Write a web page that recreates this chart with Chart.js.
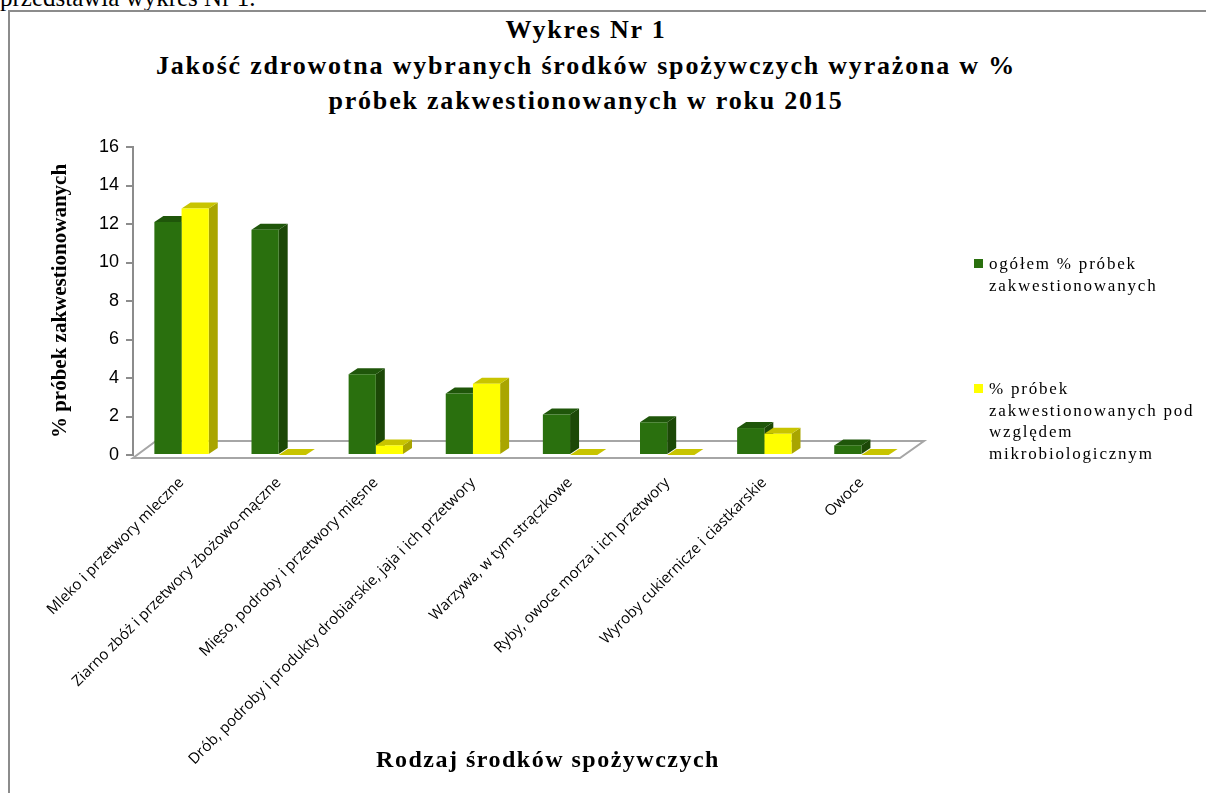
<!DOCTYPE html>
<html>
<head>
<meta charset="utf-8">
<script src="https://cdn.jsdelivr.net/npm/chart.js@4.4.0/dist/chart.umd.min.js"></script>
<style>
  body { margin: 0; width: 1206px; height: 793px; overflow: hidden; background: #fff; position: relative; font-family: "Liberation Serif", serif; }
  #intro { position: absolute; left: 0; top: -14px; font-size: 25px; line-height: 24px; white-space: nowrap; }
  #frame { position: absolute; left: 8px; top: 10px; width: 1220px; height: 800px; border: 2px solid #8c8c8c; box-sizing: border-box; }
  #wrap { position: absolute; left: 0; top: 0; width: 1172px; height: 793px; }
  #title { position: absolute; left: 0; width: 1172px; top: 12px; text-align: center; font-weight: bold; font-size: 26px; line-height: 35.5px; letter-spacing: 1.8px; }
  #legend { position: absolute; left: 974px; top: 0; font-size: 17px; letter-spacing: 1.8px; }
  .item { position: absolute; left: 0; width: 230px; }
  .box { position: absolute; left: 0; width: 9px; height: 9px; }
  .txt { position: absolute; left: 15px; line-height: 21.7px; white-space: pre; }
  #xtitle { position: absolute; left: 548px; top: 747px; transform: translateX(-50%); font-weight: bold; font-size: 24px; letter-spacing: 1.5px; white-space: nowrap; line-height: 24px; }
</style>
</head>
<body>
<div id="intro">przedstawia wykres Nr 1.</div>
<div id="frame"></div>
<div id="title"></div>
<div id="wrap"><canvas id="wykres"></canvas></div>
<div id="legend"></div>
<div id="xtitle"></div>
<script>
// dane
const categories = [
  "Mleko i przetwory mleczne",
  "Ziarno zbóż i przetwory zbożowo-mączne",
  "Mięso, podroby i przetwory mięsne",
  "Drób, podroby i produkty drobiarskie, jaja i ich przetwory",
  "Warzywa, w tym strączkowe",
  "Ryby, owoce morza i ich przetwory",
  "Wyroby cukiernicze i ciastkarskie",
  "Owoce"
];
const ogolem = [12.1, 11.7, 4.2, 3.2, 2.1, 1.7, 1.4, 0.5];
const mikro = [12.8, 0, 0.5, 3.7, 0, 0, 1.1, 0];
const seriesNames = [
  "ogółem % próbek\nzakwestionowanych",
  "% próbek\nzakwestionowanych pod\nwzględem\nmikrobiologicznym"
];
const yTicks = { min: 0, max: 16, step: 2 };
const titleLines = [
  "Wykres Nr 1",
  "Jakość zdrowotna wybranych środków spożywczych wyrażona w %",
  "próbek zakwestionowanych w roku 2015"
];
const yTitle = "% próbek zakwestionowanych";
const xTitle = "Rodzaj środków spożywczych";

const colors = [
  { front: "#2a700e", top: "#1f560a", side: "#1c4807" },
  { front: "#ffff00", top: "#c8c400", side: "#a9a500" }
];

// obrys podłogi i boki słupków 3D
const bars3d = {
  id: "bars3d",
  beforeDatasetsDraw(chart) {
    const ctx = chart.ctx, a = chart.chartArea;
    const dx = 9, dy = 6;
    ctx.save();
    ctx.strokeStyle = "#a6a6a6";
    ctx.lineWidth = 2;
    ctx.beginPath();
    ctx.moveTo(a.left, a.bottom + 3);
    ctx.lineTo(a.right - 10, a.bottom + 3);
    ctx.lineTo(a.right + 14, a.bottom - 14);
    ctx.lineTo(a.left + 23, a.bottom - 14);
    ctx.closePath();
    ctx.stroke();
    chart.data.datasets.forEach((ds, d) => {
      const c = colors[d];
      chart.getDatasetMeta(d).data.forEach(bar => {
        const { x, y, base, width } = bar.getProps(["x", "y", "base", "width"], true);
        const l = x - width / 2, r = x + width / 2;
        ctx.fillStyle = c.side;
        ctx.beginPath();
        ctx.moveTo(r, y); ctx.lineTo(r + dx, y - dy); ctx.lineTo(r + dx, base - dy); ctx.lineTo(r, base);
        ctx.closePath(); ctx.fill();
        ctx.fillStyle = c.top;
        ctx.beginPath();
        ctx.moveTo(l, y); ctx.lineTo(l + dx, y - dy); ctx.lineTo(r + dx, y - dy); ctx.lineTo(r, y);
        ctx.closePath(); ctx.fill();
      });
    });
    ctx.restore();
  }
};

new Chart(document.getElementById("wykres"), {
  type: "bar",
  data: {
    labels: categories,
    datasets: [
      { label: seriesNames[0], data: ogolem, backgroundColor: colors[0].front },
      { label: seriesNames[1], data: mikro, backgroundColor: colors[1].front }
    ]
  },
  options: {
    responsive: true,
    maintainAspectRatio: false,
    animation: false,
    categoryPercentage: 0.56,
    barPercentage: 1,
    layout: { padding: { left: 0, right: 262, top: 147, bottom: 0 } },
    plugins: {
      legend: { display: false },
      tooltip: { enabled: false },
      title: { display: false }
    },
    scales: {
      x: {
        grid: { display: false },
        border: { display: false },
        ticks: { minRotation: 45, maxRotation: 45, autoSkip: false, color: "#000", padding: 11,
                 font: { family: "Open Sans", size: 15 } },
        afterFit(s) { s.height = 793 - 455; }
      },
      y: {
        min: yTicks.min,
        max: yTicks.max,
        ticks: { stepSize: yTicks.step, color: "#000", padding: 7, font: { family: "Liberation Sans", size: 18 } },
        grid: { drawOnChartArea: false, drawTicks: true, tickLength: 7, color: "#8c8c8c", lineWidth: 2 },
        border: { display: true, color: "#8c8c8c", width: 2 },
        title: { display: true, text: yTitle, color: "#000", padding: { top: 48, bottom: 0 },
                 font: { family: "Liberation Serif", size: 21, weight: "bold" } },
        afterFit(s) { s.width = 133; }
      }
    }
  },
  plugins: [bars3d]
});

// tytuł, legenda i tytuł osi X
const title = document.getElementById("title");
titleLines.forEach(line => {
  const div = document.createElement("div");
  div.textContent = line;
  title.appendChild(div);
});
const legend = document.getElementById("legend");
const legendTops = [253, 378];
seriesNames.forEach((name, i) => {
  const item = document.createElement("div");
  item.className = "item";
  item.style.top = legendTops[i] + "px";
  item.innerHTML = '<div class="box" style="top:6px;background:' + colors[i].front + '"></div><div class="txt"></div>';
  item.querySelector(".txt").textContent = name;
  legend.appendChild(item);
});
document.getElementById("xtitle").textContent = xTitle;
</script>
</body>
</html>
